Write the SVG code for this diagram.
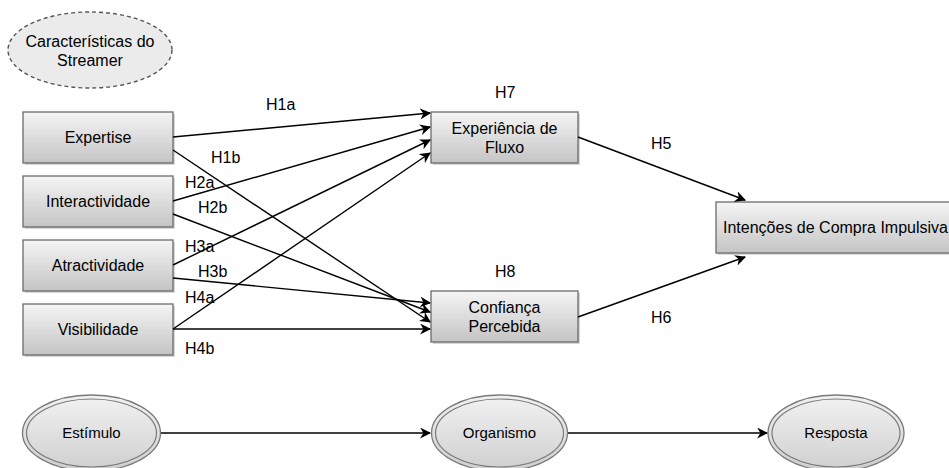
<svg xmlns="http://www.w3.org/2000/svg" width="949" height="468" viewBox="0 0 949 468">
<defs>
<linearGradient id="g" x1="0" y1="0" x2="0" y2="1">
<stop offset="0" stop-color="#f5f5f5"/>
<stop offset="1" stop-color="#c4c4c4"/>
</linearGradient>
<linearGradient id="ge" x1="0" y1="0" x2="0" y2="1">
<stop offset="0" stop-color="#f2f2f2"/>
<stop offset="1" stop-color="#cfcfcf"/>
</linearGradient>
<marker id="a" viewBox="0 0 10 10" refX="9" refY="5" markerWidth="11" markerHeight="11" markerUnits="userSpaceOnUse" orient="auto">
<path d="M0,0 L10,5 L0,10 L3,5 Z" fill="#000"/>
</marker>
</defs>
<style>
text{font-family:"Liberation Sans",Arial,sans-serif;font-size:16px;fill:#000}
.box{fill:url(#g);stroke:#6b6b6b;stroke-width:1.3}
.sh{fill:#bdbdbd;opacity:0.6}
.c{text-anchor:middle}
.e{stroke:#000;stroke-width:1.4;fill:none;marker-end:url(#a)}
.out{fill:url(#ge);stroke:#7a7a7a;stroke-width:1.3}
.in{fill:none;stroke:#7a7a7a;stroke-width:1.2}
</style>

<g id="caracteristicas">
<ellipse cx="90" cy="50" rx="82" ry="38" fill="#ebebeb" stroke="#555" stroke-width="1.4" stroke-dasharray="4,3"/>
<text class="c" x="90" y="47">Características do</text>
<text class="c" x="90" y="66">Streamer</text>
</g>

<g id="expertise">
<rect class="sh" x="25" y="114" width="150" height="51"/>
<rect class="box" x="23" y="112" width="150" height="51"/>
<text class="c" x="98" y="143">Expertise</text>
</g>
<g id="interactividade">
<rect class="sh" x="25" y="178" width="150" height="51"/>
<rect class="box" x="23" y="176" width="150" height="51"/>
<text class="c" x="98" y="207">Interactividade</text>
</g>
<g id="atractividade">
<rect class="sh" x="25" y="242" width="150" height="51"/>
<rect class="box" x="23" y="240" width="150" height="51"/>
<text class="c" x="98" y="271">Atractividade</text>
</g>
<g id="visibilidade">
<rect class="sh" x="25" y="306" width="150" height="51"/>
<rect class="box" x="23" y="304" width="150" height="51"/>
<text class="c" x="98" y="335">Visibilidade</text>
</g>

<g id="experiencia">
<rect class="sh" x="433" y="114" width="147" height="51"/>
<rect class="box" x="431" y="112" width="147" height="51"/>
<text class="c" x="504.5" y="134">Experiência de</text>
<text class="c" x="504.5" y="153">Fluxo</text>
</g>
<g id="confianca">
<rect class="sh" x="433" y="293" width="147" height="51"/>
<rect class="box" x="431" y="291" width="147" height="51"/>
<text class="c" x="504.5" y="313">Confiança</text>
<text class="c" x="504.5" y="332">Percebida</text>
</g>
<g id="intencoes">
<rect class="sh" x="718" y="204" width="250" height="51"/>
<rect class="box" x="716" y="202" width="250" height="51"/>
<text x="723" y="233">Intenções de Compra Impulsiva</text>
</g>

<g id="estimulo">
<ellipse class="out" cx="91.5" cy="433" rx="69" ry="38"/>
<ellipse class="in" cx="91.5" cy="433" rx="65" ry="34"/>
<text class="c" x="91.5" y="438" style="font-size:15px">Estímulo</text>
</g>
<g id="organismo">
<ellipse class="out" cx="499.5" cy="433" rx="68" ry="38"/>
<ellipse class="in" cx="499.5" cy="433" rx="64" ry="34"/>
<text class="c" x="499.5" y="438" style="font-size:15px">Organismo</text>
</g>
<g id="resposta">
<ellipse class="out" cx="836" cy="433" rx="68" ry="38"/>
<ellipse class="in" cx="836" cy="433" rx="64" ry="34"/>
<text class="c" x="836" y="438" style="font-size:15px">Resposta</text>
</g>

<g id="connectors">
<line class="e" x1="173" y1="137" x2="430" y2="113"/>
<line class="e" x1="173" y1="201" x2="430" y2="127"/>
<line class="e" x1="173" y1="265" x2="430" y2="140"/>
<line class="e" x1="173" y1="329" x2="430" y2="153"/>
<line class="e" x1="173" y1="150" x2="430" y2="322"/>
<line class="e" x1="173" y1="214" x2="430" y2="312"/>
<line class="e" x1="173" y1="278" x2="430" y2="303"/>
<line class="e" x1="173" y1="329" x2="430" y2="329"/>
<line class="e" x1="578" y1="137" x2="745" y2="200"/>
<line class="e" x1="578" y1="317" x2="745" y2="257"/>
<line class="e" x1="161" y1="433" x2="430" y2="433"/>
<line class="e" x1="568" y1="433" x2="767" y2="433"/>
</g>

<g id="labels">
<text x="266" y="110">H1a</text>
<text x="211" y="163">H1b</text>
<text x="185" y="188">H2a</text>
<text x="198" y="213">H2b</text>
<text x="185" y="252">H3a</text>
<text x="198" y="277">H3b</text>
<text x="185" y="303">H4a</text>
<text x="185" y="354">H4b</text>
<text x="495" y="98">H7</text>
<text x="495" y="277">H8</text>
<text x="651" y="149">H5</text>
<text x="651" y="323">H6</text>
</g>
</svg>
